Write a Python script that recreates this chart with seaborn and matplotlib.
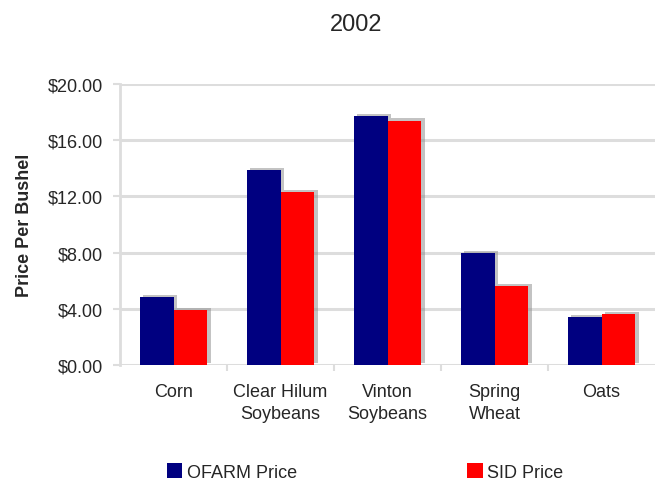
import matplotlib.pyplot as plt
import matplotlib.patheffects as pe
import pandas as pd
import seaborn as sns

crops = ["Corn", "Clear Hilum\nSoybeans", "Vinton\nSoybeans", "Spring\nWheat", "Oats"]
ofarm = [4.85, 13.9, 17.7, 7.95, 3.4]
sid = [3.9, 12.3, 17.4, 5.6, 3.6]
series = ["OFARM Price", "SID Price"]
yticks = [0, 4, 8, 12, 16, 20]

df = pd.DataFrame({
    "crop": crops * 2,
    "price": ofarm + sid,
    "series": [series[0]] * len(crops) + [series[1]] * len(crops),
})

sns.set_style("white")
plt.rcParams['font.family'] = ['Liberation Sans', 'DejaVu Sans']

fig = plt.figure(figsize=(6.56, 4.81), dpi=100)
ax = fig.add_axes([120/656, 1 - 366/481, 535/656, (366 - 85)/481])

sns.barplot(data=df, x="crop", y="price", hue="series", order=crops,
            palette=["#000080", "#ff0000"], width=0.63, gap=0,
            saturation=1, ax=ax, legend=True, zorder=3, linewidth=0)

shadow = [pe.SimplePatchShadow(offset=(2.5, 1.5), shadow_rgbFace="#888888", alpha=0.5), pe.Normal()]
for p in ax.patches:
    p.set_path_effects(shadow)

ax.set_ylim(0, 20)
ax.set_xlim(-0.5, 4.5)
ax.set_yticks(yticks)
ax.set_yticklabels([f"${v:.2f}" for v in yticks])
ax.yaxis.grid(True, color="#dddddd", linewidth=2.2, zorder=0)
ax.set_axisbelow(True)
ax.set_xlabel("")
ax.set_ylabel("")

for s in ["top", "right", "bottom"]:
    ax.spines[s].set_visible(False)
ax.spines["left"].set_color("#dddddd")
ax.spines["left"].set_linewidth(2)

ax.tick_params(axis="y", length=5, width=1.5, color="#dddddd", pad=7, labelsize=13, left=True)
ax.tick_params(axis="x", which="major", length=0, pad=13, labelsize=13)
ax.set_xticks([0.5, 1.5, 2.5, 3.5], minor=True)
ax.tick_params(axis="x", which="minor", length=4, width=1.5, color="#dddddd", bottom=True)
for t in ax.get_xticklabels():
    t.set_linespacing(1.35)

ax.get_legend().remove()
handles, labels = ax.get_legend_handles_labels()
leg = fig.legend(handles, labels, loc="center", bbox_to_anchor=(365/656, 1 - 473/481),
                 ncol=2, frameon=False, fontsize=13, handlelength=0.85, handleheight=0.85,
                 handletextpad=0.25, columnspacing=9.45)
for h in leg.legend_handles:
    h.set_path_effects([])

fig.text(356/656, 1 - 25/481, "2002", ha="center", va="center", fontsize=17)
fig.text(25/656, 1 - 225/481, "Price Per Bushel", rotation=90, ha="center", va="center",
         fontsize=13, fontweight="bold")

fig.savefig("out.png", dpi=100)
